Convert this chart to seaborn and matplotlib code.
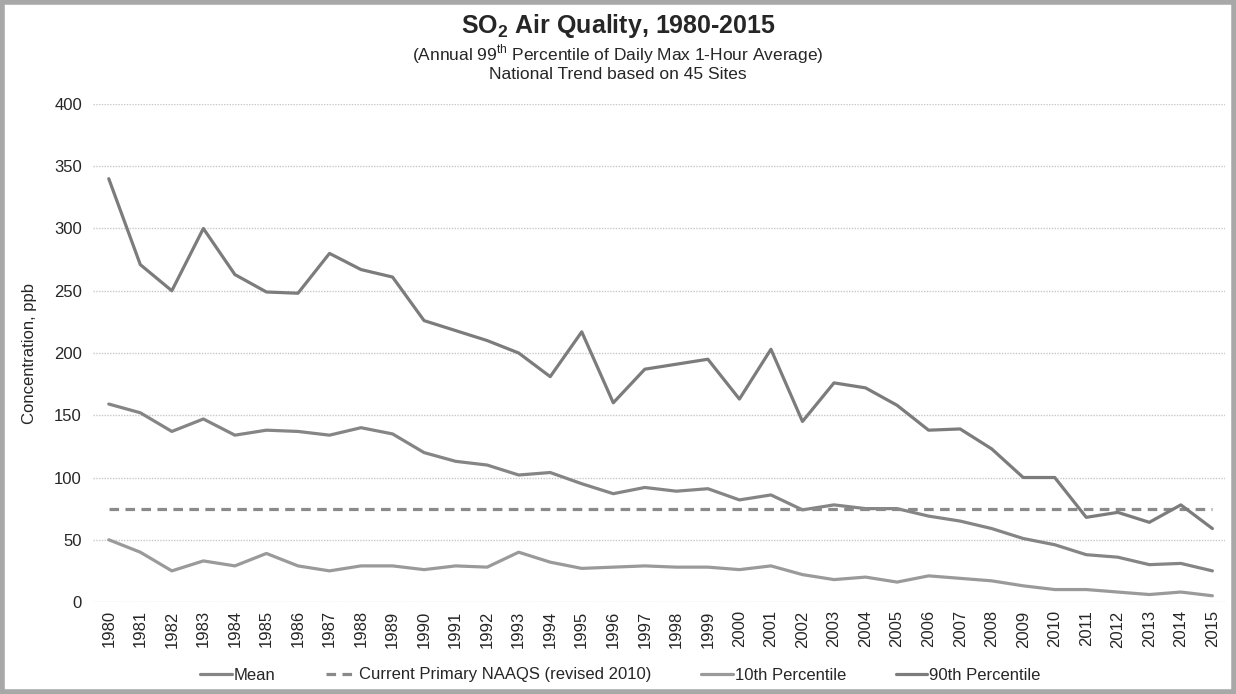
import numpy as np
import pandas as pd
import matplotlib
matplotlib.use("Agg")
import matplotlib.pyplot as plt
import seaborn as sns

years = list(range(1980, 2016))

p90 = [340, 271, 250, 300, 263, 249, 248, 280, 267, 261,
       226, 218, 210, 200, 181, 217, 160, 187, 191, 195,
       163, 203, 145, 176, 172, 158, 138, 139, 123, 100,
       100, 68, 72, 64, 78, 59]
mean = [159, 152, 137, 147, 134, 138, 137, 134, 140, 135,
        120, 113, 110, 102, 104, 95, 87, 92, 89, 91,
        82, 86, 74, 78, 75, 75, 69, 65, 59, 51,
        46, 38, 36, 30, 31, 25]
p10 = [50, 40, 25, 33, 29, 39, 29, 25, 29, 29,
       26, 29, 28, 40, 32, 27, 28, 29, 28, 28,
       26, 29, 22, 18, 20, 16, 21, 19, 17, 13,
       10, 10, 8, 6, 8, 5]
naaqs = [75] * len(years)

sns.set_theme(style="white")
plt.rcParams['font.family'] = ['Liberation Sans', 'DejaVu Sans']

fig = plt.figure(figsize=(12.36, 6.94), dpi=100)
ax = fig.add_axes([93 / 1236, 1 - 602 / 694, (1225 - 93) / 1236, (602 - 104) / 694])

sns.lineplot(x=years, y=mean, ax=ax, color="#858585", lw=2.3, label="Mean")
sns.lineplot(x=years, y=naaqs, ax=ax, color="#8a8a8a", lw=2.3,
             linestyle=(0, (3, 2)), label="Current Primary NAAQS (revised 2010)")
sns.lineplot(x=years, y=p10, ax=ax, color="#9a9a9a", lw=2.3, label="10th Percentile")
sns.lineplot(x=years, y=p90, ax=ax, color="#7c7c7c", lw=2.3, label="90th Percentile")

ax.set_xlim(1979.5, 2015.4)
ax.set_ylim(0, 400)
ax.set_yticks(range(0, 401, 50))
ax.set_xticks(years)
ax.set_xticklabels([str(y) for y in years], rotation=90, fontsize=12)
ax.tick_params(axis='y', labelsize=12, length=0, pad=8)
ax.tick_params(axis='x', length=0, pad=6)
ax.grid(axis='y', color="#c8c8c8", linestyle=(0, (1, 1)), lw=1)
for s in ax.spines.values():
    s.set_visible(False)
ax.set_xlabel("")
ax.set_ylabel("Concentration, ppb", fontsize=12, labelpad=12)

fig.text(0.5, 1 - 33 / 694, r"SO$_\mathregular{2}$ Air Quality, 1980-2015", ha="center", va="baseline",
         fontsize=18, fontweight="bold")
fig.text(0.5, 1 - 60 / 694, "(Annual 99$^\\mathregular{th}$ Percentile of Daily Max 1-Hour Average)",
         ha="center", va="baseline", fontsize=12.5)
fig.text(0.5, 1 - 79 / 694, "National Trend based on 45 Sites", ha="center", va="baseline", fontsize=12.5)

handles, labels = ax.get_legend_handles_labels()
ax.get_legend().remove()
fig.legend(handles, labels, loc="center", bbox_to_anchor=(0.502, 1 - 675 / 694), ncol=4,
           frameon=False, fontsize=12, handlelength=1.9, handletextpad=0.1, columnspacing=3.0)

fig.patches.append(plt.Rectangle((0.002, 0.003), 0.996, 0.994, transform=fig.transFigure,
                                 fill=False, edgecolor="#a8a8a8", lw=4))

fig.savefig("out.png", dpi=100)
